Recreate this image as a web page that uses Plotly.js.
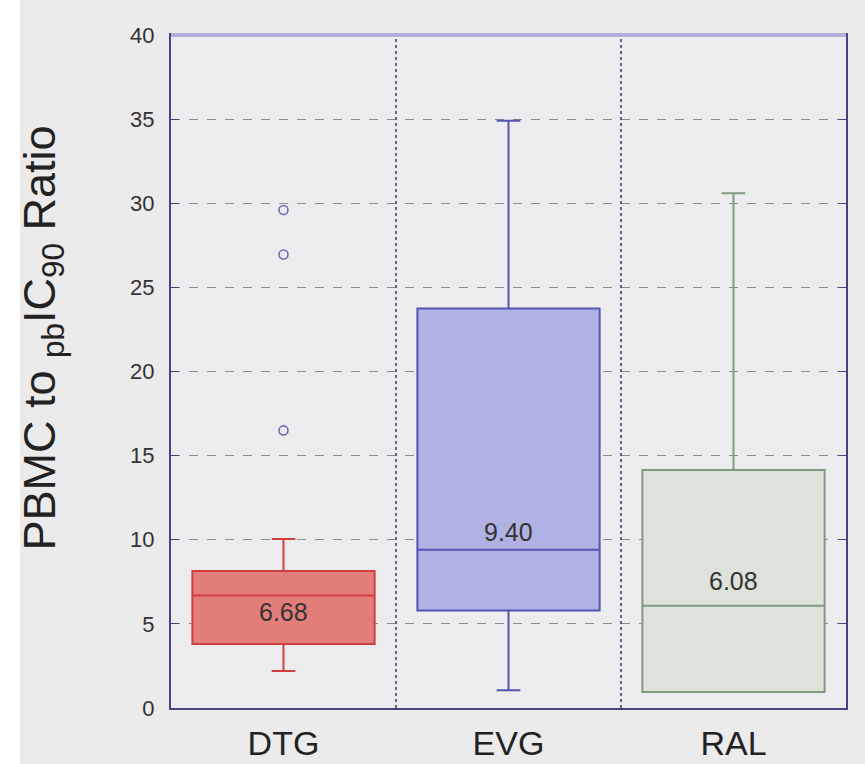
<!DOCTYPE html>
<html>
<head>
<meta charset="utf-8">
<script src="https://cdn.plot.ly/plotly-3.0.1.min.js"></script>
<style>
  html, body { margin: 0; padding: 0; background: #ebebeb; }
  #chart { width: 865px; height: 764px; }
</style>
</head>
<body>
<div id="chart"></div>
<script>
// ---- data ----
const categories   = ["DTG", "EVG", "RAL"];
const q1Values     = [3.8, 5.8, 0.95];
const medianValues = [6.68, 9.40, 6.08];
const q3Values     = [8.15, 23.75, 14.15];
const lowerWhisker = [2.2, 1.05, 0.95];
const upperWhisker = [10.05, 34.9, 30.6];
const medianLabels = ["6.68", "9.40", "6.08"];
const outlierCategory = ["DTG", "DTG", "DTG"];
const outlierValues   = [29.6, 26.95, 16.5];
const yTicks = [0, 5, 10, 15, 20, 25, 30, 35, 40];
const yTitle = "PBMC to <sub>pb</sub>IC<sub>90</sub> Ratio";

// ---- styles ----
const fillColors = ["#e37d7a", "#b0b2e4", "#dde2da"];
const lineColors = ["#cf3f3f", "#5454b4", "#7f9a80"];
const labelShift = [-16, 18, 25];

const traces = categories.map((c, i) => ({
  type: "box",
  name: c,
  x: [c],
  q1: [q1Values[i]],
  median: [medianValues[i]],
  q3: [q3Values[i]],
  lowerfence: [lowerWhisker[i]],
  upperfence: [upperWhisker[i]],
  fillcolor: fillColors[i],
  line: { color: lineColors[i], width: 2 },
  width: 0.81,
  whiskerwidth: 0.13,
  boxpoints: false,
  hoverinfo: "skip",
  showlegend: false
}));

traces.push({
  type: "scatter",
  mode: "markers",
  x: outlierCategory,
  y: outlierValues,
  marker: { symbol: "circle-open", size: 9, color: "#6b6bbd", line: { width: 1.6, color: "#6b6bbd" } },
  hoverinfo: "skip",
  showlegend: false
});

const annotations = categories.map((c, i) => ({
  x: c, y: medianValues[i], xref: "x", yref: "y",
  text: medianLabels[i], showarrow: false, yshift: labelShift[i],
  font: { family: "Liberation Sans, Arial, sans-serif", size: 25, color: "#333333" }
}));

// y-axis title (rotated annotation placed like the reference)
annotations.push({
  xref: "paper", yref: "paper", x: -0.19, y: 0.55,
  xanchor: "center", yanchor: "middle",
  text: yTitle, textangle: -90, showarrow: false,
  font: { family: "Liberation Sans, Arial, sans-serif", size: 45, color: "#222222" }
});

const shapes = [
  // white strip at the far left of the picture
  { type: "rect", xref: "paper", yref: "paper", x0: -0.26, x1: -0.2237, y0: -0.2, y1: 1.2,
    fillcolor: "#ffffff", line: { width: 0 }, layer: "below" },
  { type: "line", xref: "x", yref: "paper", x0: 0.5, x1: 0.5, y0: 0, y1: 1,
    line: { color: "#3a3a6a", width: 1.5, dash: "dot" } },
  { type: "line", xref: "x", yref: "paper", x0: 1.5, x1: 1.5, y0: 0, y1: 1,
    line: { color: "#3a3a6a", width: 1.5, dash: "dot" } },
  { type: "line", xref: "paper", yref: "paper", x0: 0, x1: 1, y0: 1, y1: 1,
    line: { color: "#aeb0dc", width: 4 } }
];

const layout = {
  width: 865, height: 764,
  margin: { l: 171, r: 19, t: 35, b: 56 },
  paper_bgcolor: "#ebebeb",
  plot_bgcolor: "#ececee",
  font: { family: "Liberation Sans, Arial, sans-serif", color: "#333333" },
  xaxis: {
    type: "category",
    categoryorder: "array", categoryarray: categories,
    range: [-0.5, 2.5],
    showgrid: false, zeroline: false,
    showline: true, mirror: true, linecolor: "#45457f", linewidth: 2,
    ticks: "", tickfont: { size: 34, color: "#222222" },
    ticklabelstandoff: 4
  },
  yaxis: {
    range: [0, 40],
    tickvals: yTicks,
    ticktext: yTicks.map(String),
    showgrid: true, gridcolor: "#8c8c8c", griddash: "dash", gridwidth: 1,
    zeroline: false,
    showline: true, mirror: "ticks", linecolor: "#45457f", linewidth: 2,
    ticks: "inside", ticklen: 8, tickcolor: "#45457f",
    tickfont: { size: 22, color: "#333333" },
    ticklabelstandoff: 10
  },
  shapes: shapes,
  annotations: annotations
};

Plotly.newPlot("chart", traces, layout, { staticPlot: true, displayModeBar: false });
</script>
</body>
</html>
